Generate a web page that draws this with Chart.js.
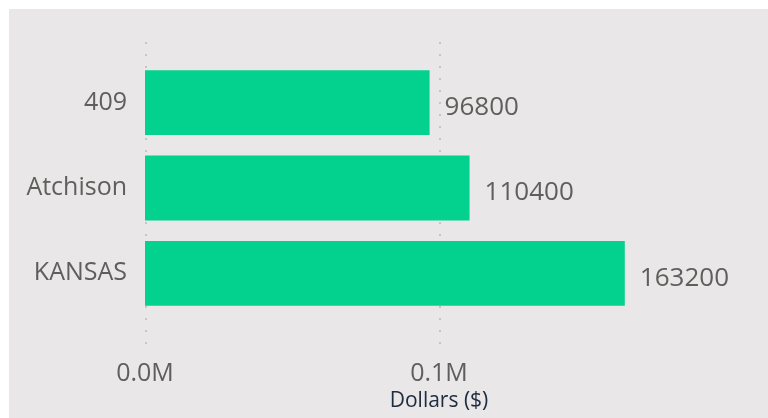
<!DOCTYPE html>
<html>
<head>
<meta charset="utf-8">
<script src="https://cdn.jsdelivr.net/npm/chart.js@4"></script>
<style>
  body { margin: 0; background: #ffffff; }
  #wrap { position: absolute; left: 9px; top: 9px; width: 759px; height: 409px; background: #e9e7e8; }
</style>
</head>
<body>
<div id="wrap"><canvas id="myChart" width="759" height="409"></canvas></div>
<script>
let cities = ["409", "Atchison", "KANSAS"];
let dollars = [96800, 110400, 163200];
let xTicks = [0, 100000];

// dotted gridlines, a bit taller than the plot area
const dotGrid = {
  id: "dotGrid",
  beforeDatasetsDraw(chart) {
    const ctx = chart.ctx;
    const area = chart.chartArea;
    const x = chart.scales.x;
    ctx.save();
    ctx.strokeStyle = "#c8c6c4";
    ctx.lineWidth = 2;
    ctx.setLineDash([2, 10]);
    xTicks.forEach((v) => {
      const px = Math.round(x.getPixelForValue(v)) + 1;
      ctx.beginPath();
      ctx.moveTo(px, area.top - 18);
      ctx.lineTo(px, area.bottom + 28);
      ctx.stroke();
    });
    ctx.restore();
  },
};

const valueLabels = {
  id: "valueLabels",
  afterDatasetsDraw(chart) {
    const ctx = chart.ctx;
    const meta = chart.getDatasetMeta(0);
    ctx.save();
    ctx.font = "26px 'Open Sans'";
    ctx.fillStyle = "#605e5c";
    ctx.textAlign = "left";
    ctx.textBaseline = "middle";
    meta.data.forEach((bar, i) => {
      ctx.fillText(String(dollars[i]), bar.x + 15, bar.y + 5);
    });
    ctx.restore();
  },
};

const data = {
  labels: cities,
  datasets: [
    {
      label: "Dollars ($)",
      data: dollars,
      backgroundColor: "#02d28e",
      borderWidth: 0,
      barPercentage: 0.76,
      categoryPercentage: 1.0,
    },
  ],
};

const config = {
  type: "bar",
  data: data,
  options: {
    indexAxis: "y",
    responsive: false,
    animation: false,
    layout: { padding: { left: 0, right: 33, top: 51, bottom: 0 } },
    plugins: {
      legend: { display: false },
      tooltip: { enabled: false },
    },
    scales: {
      x: {
        min: 0,
        max: 200000,
        border: { display: false },
        grid: { display: false },
        afterFit: (scale) => { scale.height = 102; },
        ticks: {
          stepSize: 100000,
          padding: 35,
          maxRotation: 0,
          color: "#605e5c",
          font: { family: "'Open Sans'", size: 25 },
          callback: (v) => (xTicks.includes(v) ? (v / 1e6).toFixed(1) + "M" : ""),
        },
        title: {
          display: true,
          text: "Dollars ($)",
          color: "#202c40",
          font: { family: "'Open Sans'", size: 21 },
          padding: { top: 0, bottom: 4 },
        },
      },
      y: {
        border: { display: false },
        grid: { display: false },
        afterFit: (scale) => { scale.width = 136; },
        ticks: {
          padding: 10,
          color: "#605e5c",
          font: { family: "'Open Sans'", size: 25 },
        },
      },
    },
  },
  plugins: [dotGrid, valueLabels],
};

document.addEventListener("DOMContentLoaded", function() {
  const myChart = new Chart(document.getElementById("myChart"), config);
});
</script>
</body>
</html>
